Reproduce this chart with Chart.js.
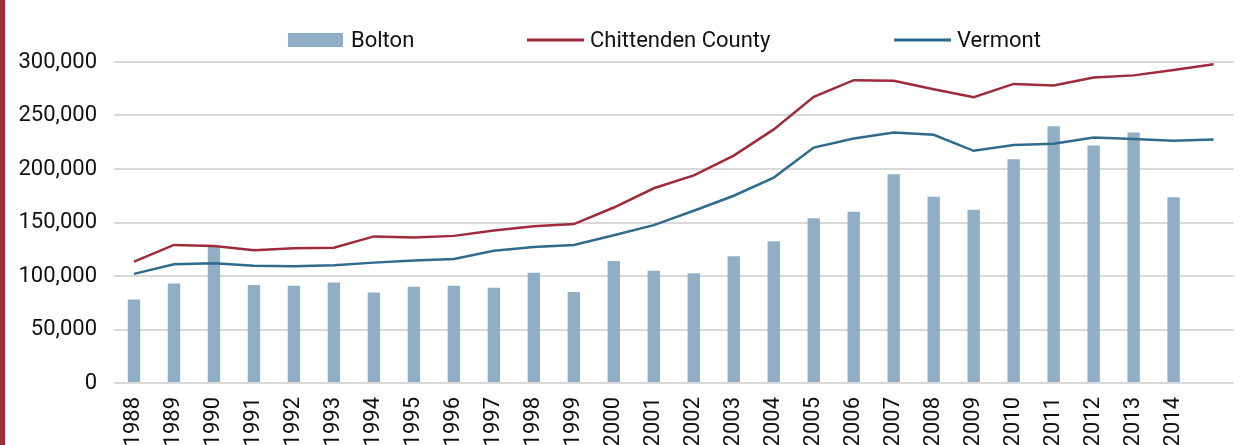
<!DOCTYPE html>
<html>
<head>
<meta charset="utf-8">
<script src="https://cdn.jsdelivr.net/npm/chart.js@4/dist/chart.umd.min.js"></script>
<style>
    html, body { margin: 0; padding: 0; background: #fff; }
    #wrap { width: 1246px; height: 445px; position: relative; }
</style>
</head>
<body>
<div id="wrap"><canvas id="chart_1"></canvas></div>
<script>
// values
var years = ['1988', '1989', '1990', '1991', '1992', '1993', '1994', '1995', '1996', '1997',
    '1998', '1999', '2000', '2001', '2002', '2003', '2004', '2005', '2006', '2007',
    '2008', '2009', '2010', '2011', '2012', '2013', '2014', ''];
var bolton = [78000, 93000, 128000, 91500, 91000, 94000, 84500, 90000, 91000, 89000,
    103000, 85000, 114000, 105000, 102500, 118500, 132500, 154000, 160000, 195000,
    174000, 162000, 209000, 240000, 222000, 234000, 173500, null];
var chittenden = [113500, 129000, 128000, 124000, 126000, 126500, 137000, 136000, 137500, 142500,
    146500, 148500, 164000, 182000, 194000, 212500, 237000, 267500, 283000, 282500,
    274500, 267000, 279500, 278000, 285500, 287500, 292500, 298000];
var vermont = [102000, 111000, 112000, 109500, 109000, 110000, 112500, 114500, 116000, 123500,
    127000, 129000, 138000, 147500, 161000, 175000, 192000, 220000, 228500, 234000,
    232000, 217000, 222500, 223500, 229500, 228000, 226500, 227500];
var yTicks = [0, 50000, 100000, 150000, 200000, 250000, 300000];

var FONT = "Roboto, sans-serif";
var barColor = "#90afc6";
var redColor = "#9e2a3a";
var blueColor = "#306b8d";

// left red rule + legend, drawn by hand so the spacing follows the picture
var decor = {
    id: 'decor',
    beforeDraw: function (chart) {
        var ctx = chart.ctx;
        ctx.save();
        ctx.fillStyle = redColor;
        ctx.fillRect(0, 0, 5, chart.height);
        ctx.restore();
    },
    afterDraw: function (chart) {
        var ctx = chart.ctx;
        var items = [
            {text: 'Bolton', x: 288, kind: 'box', color: barColor},
            {text: 'Chittenden County', x: 527, kind: 'line', color: redColor},
            {text: 'Vermont', x: 894, kind: 'line', color: blueColor}
        ];
        var y = 40;
        ctx.save();
        ctx.font = "22px " + FONT;
        ctx.textBaseline = 'middle';
        items.forEach(function (it) {
            if (it.kind == 'box') {
                ctx.fillStyle = it.color;
                ctx.fillRect(it.x, y - 7, 55, 14);
            } else {
                ctx.strokeStyle = it.color;
                ctx.lineWidth = 3;
                ctx.beginPath();
                ctx.moveTo(it.x, y);
                ctx.lineTo(it.x + 57, y);
                ctx.stroke();
            }
            ctx.fillStyle = '#111';
            ctx.fillText(it.text, it.x + 63, y + 1);
        });
        ctx.restore();
    }
};

var ctx1 = document.getElementById("chart_1").getContext("2d");
var chart1 = new Chart(ctx1, {
    type: 'bar',
    data: {
        labels: years,
        datasets: [
            {
                type: 'line',
                label: 'Chittenden County',
                data: chittenden,
                borderColor: redColor,
                borderWidth: 2.5,
                pointRadius: 0,
                fill: false,
                tension: 0,
                order: 0
            },
            {
                type: 'line',
                label: 'Vermont',
                data: vermont,
                borderColor: blueColor,
                borderWidth: 2.5,
                pointRadius: 0,
                fill: false,
                tension: 0,
                order: 0
            },
            {
                type: 'bar',
                label: 'Bolton',
                data: bolton,
                backgroundColor: barColor,
                categoryPercentage: 1,
                barPercentage: 0.31,
                order: 1
            }
        ]
    },
    options: {
        responsive: true,
        maintainAspectRatio: false,
        animation: false,
        layout: {
            padding: {left: 6, top: 62, right: 0, bottom: 0}
        },
        plugins: {
            legend: {display: false},
            tooltip: {enabled: false}
        },
        scales: {
            x: {
                grid: {display: false},
                border: {display: false},
                ticks: {
                    autoSkip: false,
                    minRotation: 90,
                    maxRotation: 90,
                    padding: 6,
                    color: '#111',
                    font: {family: FONT, size: 22}
                },
                afterFit: function (s) { s.height = 62; }
            },
            y: {
                min: 0,
                max: 300000,
                afterBuildTicks: function (s) {
                    s.ticks = yTicks.map(function (v) { return {value: v}; });
                },
                grid: {color: '#d9d9d9', lineWidth: 2, drawTicks: false},
                border: {display: false},
                ticks: {
                    padding: 17,
                    color: '#111',
                    font: {family: FONT, size: 22},
                    callback: function (v) { return v.toLocaleString('en-US'); }
                },
                afterFit: function (s) { s.width = 108; }
            }
        }
    },
    plugins: [decor]
});
</script>
</body>
</html>
